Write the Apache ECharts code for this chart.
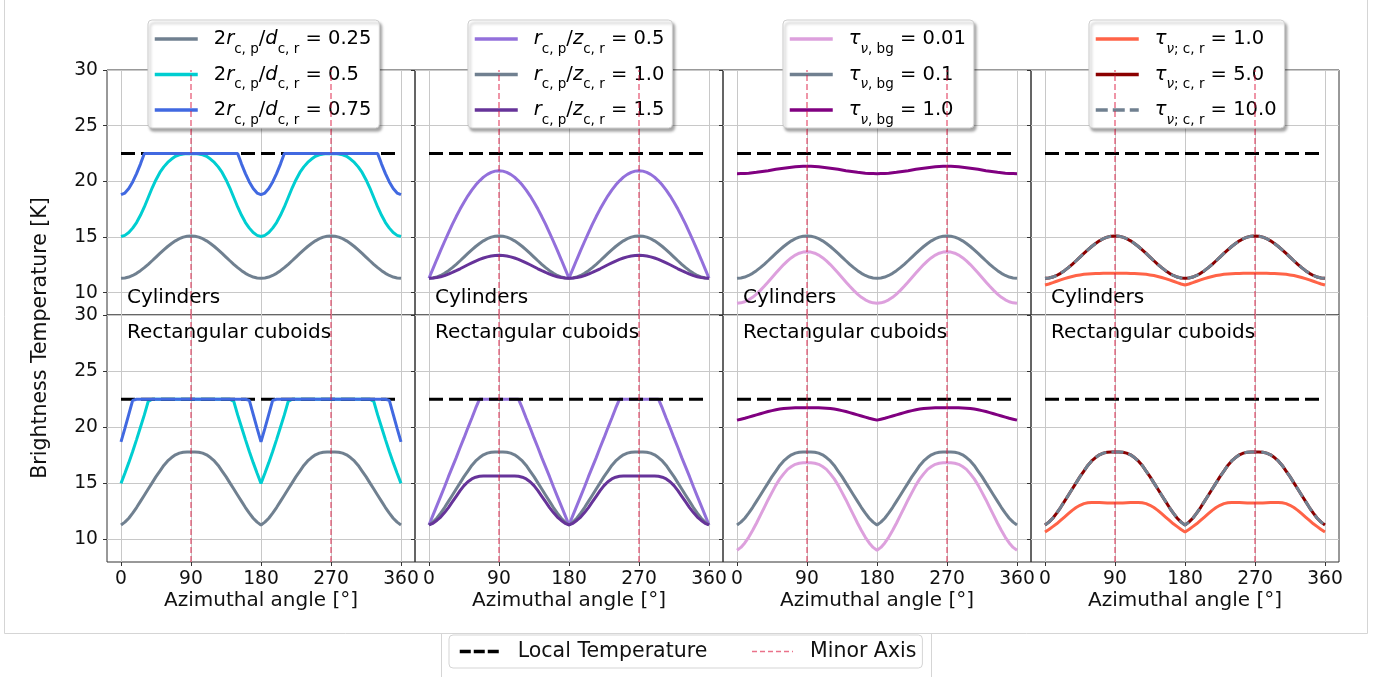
<!DOCTYPE html>
<html>
<head>
<meta charset="utf-8">
<title>Brightness temperature vs azimuthal angle</title>
<script src="https://cdn.jsdelivr.net/npm/echarts@6/dist/echarts.min.js"></script>
<style>
  html, body { margin: 0; padding: 0; background: #fff; }
  #chart { width: 1377px; height: 677px; }
</style>
</head>
<body>
<div id="chart"></div>
<script>
// azimuthal angle samples [deg]
const angles = [0,5,10,15,20,25,30,35,40,45,50,55,60,65,70,75,80,85,90,
  95,100,105,110,115,120,125,130,135,140,145,150,155,160,165,170,175,180,
  185,190,195,200,205,210,215,220,225,230,235,240,245,250,255,260,265,270,
  275,280,285,290,295,300,305,310,315,320,325,330,335,340,345,350,355,360]

const xTicks = [0, 90, 180, 270, 360]
const yTicks = [10, 15, 20, 25, 30]
const minorAxisAngles = [90, 270]
const localTempAngles = [0, 360]
const localTemp = 22.5

// legend values per column
const ratioValues = ['0.25', '0.5', '0.75']
const rzValues = ['0.5', '1.0', '1.5']
const tauBgValues = ['0.01', '0.1', '1.0']
const tauCrValues = ['1.0', '5.0', '10.0']

// ---- Cylinders (top row) ----
// reference model (slate gray in every panel)
const cylBase = [11.3,11.33,11.41,11.55,11.74,11.98,12.25,12.55,12.87,13.2,13.53,13.85,14.15,14.42,14.66,14.85,14.99,15.07,15.1,
  15.07,14.99,14.85,14.66,14.42,14.15,13.85,13.53,13.2,12.87,12.55,12.25,11.98,11.74,11.55,11.41,11.33,11.3,
  11.33,11.41,11.55,11.74,11.98,12.25,12.55,12.87,13.2,13.53,13.85,14.15,14.42,14.66,14.85,14.99,15.07,15.1,
  15.07,14.99,14.85,14.66,14.42,14.15,13.85,13.53,13.2,12.87,12.55,12.25,11.98,11.74,11.55,11.41,11.33,11.3]
const cylRatio050 = [15.05,15.15,15.4,15.8,16.3,16.95,17.7,18.55,19.4,20.15,20.8,21.3,21.7,22.0,22.25,22.38,22.45,22.49,22.5,
  22.49,22.45,22.38,22.25,22.0,21.7,21.3,20.8,20.15,19.4,18.55,17.7,16.95,16.3,15.8,15.4,15.15,15.05,
  15.15,15.4,15.8,16.3,16.95,17.7,18.55,19.4,20.15,20.8,21.3,21.7,22.0,22.25,22.38,22.45,22.49,22.5,
  22.49,22.45,22.38,22.25,22.0,21.7,21.3,20.8,20.15,19.4,18.55,17.7,16.95,16.3,15.8,15.4,15.15,15.05]
const cylRatio075 = [18.8,18.95,19.35,19.95,20.7,21.55,22.5,22.5,22.5,22.5,22.5,22.5,22.5,22.5,22.5,22.5,22.5,22.5,22.5,
  22.5,22.5,22.5,22.5,22.5,22.5,22.5,22.5,22.5,22.5,22.5,22.5,21.55,20.7,19.95,19.35,18.95,18.8,
  18.95,19.35,19.95,20.7,21.55,22.5,22.5,22.5,22.5,22.5,22.5,22.5,22.5,22.5,22.5,22.5,22.5,22.5,
  22.5,22.5,22.5,22.5,22.5,22.5,22.5,22.5,22.5,22.5,22.5,22.5,21.55,20.7,19.95,19.35,18.95,18.8]
const cylRz050 = [11.3,12.14,12.98,13.8,14.6,15.38,16.13,16.84,17.51,18.13,18.7,19.21,19.67,20.05,20.38,20.63,20.81,20.92,20.96,
  20.92,20.81,20.63,20.38,20.05,19.67,19.21,18.7,18.13,17.51,16.84,16.13,15.38,14.6,13.8,12.98,12.14,11.3,
  12.14,12.98,13.8,14.6,15.38,16.13,16.84,17.51,18.13,18.7,19.21,19.67,20.05,20.38,20.63,20.81,20.92,20.96,
  20.92,20.81,20.63,20.38,20.05,19.67,19.21,18.7,18.13,17.51,16.84,16.13,15.38,14.6,13.8,12.98,12.14,11.3]
const cylRz150 = [11.3,11.32,11.36,11.44,11.54,11.67,11.82,11.98,12.15,12.33,12.51,12.68,12.84,12.99,13.12,13.22,13.3,13.34,13.36,
  13.34,13.3,13.22,13.12,12.99,12.84,12.68,12.51,12.33,12.15,11.98,11.82,11.67,11.54,11.44,11.36,11.32,11.3,
  11.32,11.36,11.44,11.54,11.67,11.82,11.98,12.15,12.33,12.51,12.68,12.84,12.99,13.12,13.22,13.3,13.34,13.36,
  13.34,13.3,13.22,13.12,12.99,12.84,12.68,12.51,12.33,12.15,11.98,11.82,11.67,11.54,11.44,11.36,11.32,11.3]
const cylTau001 = [9.05,9.09,9.19,9.36,9.59,9.88,10.21,10.58,10.97,11.37,11.77,12.16,12.53,12.86,13.15,13.38,13.55,13.65,13.68,
  13.65,13.55,13.38,13.15,12.86,12.53,12.16,11.77,11.37,10.97,10.58,10.21,9.88,9.59,9.36,9.19,9.09,9.05,
  9.09,9.19,9.36,9.59,9.88,10.21,10.58,10.97,11.37,11.77,12.16,12.53,12.86,13.15,13.38,13.55,13.65,13.68,
  13.65,13.55,13.38,13.15,12.86,12.53,12.16,11.77,11.37,10.97,10.58,10.21,9.88,9.59,9.36,9.19,9.09,9.05]
const cylTau10 = [20.69,20.7,20.71,20.73,20.77,20.81,20.86,20.91,20.96,21.02,21.08,21.13,21.18,21.23,21.27,21.31,21.33,21.35,21.35,
  21.35,21.33,21.31,21.27,21.23,21.18,21.13,21.08,21.02,20.96,20.91,20.86,20.81,20.77,20.73,20.71,20.7,20.69,
  20.7,20.71,20.73,20.77,20.81,20.86,20.91,20.96,21.02,21.08,21.13,21.18,21.23,21.27,21.31,21.33,21.35,21.35,
  21.35,21.33,21.31,21.27,21.23,21.18,21.13,21.08,21.02,20.96,20.91,20.86,20.81,20.77,20.73,20.71,20.7,20.69]
const cylTauCr1 = [10.69,10.78,10.9,11.03,11.15,11.27,11.37,11.46,11.54,11.6,11.65,11.68,11.71,11.72,11.73,11.74,11.74,11.74,11.74,
  11.74,11.74,11.74,11.73,11.72,11.71,11.68,11.65,11.6,11.54,11.46,11.37,11.27,11.15,11.03,10.9,10.78,10.69,
  10.78,10.9,11.03,11.15,11.27,11.37,11.46,11.54,11.6,11.65,11.68,11.71,11.72,11.73,11.74,11.74,11.74,11.74,
  11.74,11.74,11.74,11.73,11.72,11.71,11.68,11.65,11.6,11.54,11.46,11.37,11.27,11.15,11.03,10.9,10.78,10.69]

// ---- Rectangular cuboids (bottom row) ----
const cubBase = [11.3,11.55,11.9,12.35,12.85,13.4,13.95,14.5,15.05,15.6,16.1,16.6,17.0,17.3,17.55,17.7,17.78,17.8,17.8,
  17.8,17.78,17.7,17.55,17.3,17.0,16.6,16.1,15.6,15.05,14.5,13.95,13.4,12.85,12.35,11.9,11.55,11.3,
  11.55,11.9,12.35,12.85,13.4,13.95,14.5,15.05,15.6,16.1,16.6,17.0,17.3,17.55,17.7,17.78,17.8,17.8,
  17.8,17.78,17.7,17.55,17.3,17.0,16.6,16.1,15.6,15.05,14.5,13.95,13.4,12.85,12.35,11.9,11.55,11.3]
const cubRatio050 = [15.0,15.9,16.85,17.85,18.9,20.0,21.1,22.3,22.5,22.5,22.5,22.5,22.5,22.5,22.5,22.5,22.5,22.5,22.5,
  22.5,22.5,22.5,22.5,22.5,22.5,22.5,22.5,22.5,22.5,22.3,21.1,20.0,18.9,17.85,16.85,15.9,15.0,
  15.9,16.85,17.85,18.9,20.0,21.1,22.3,22.5,22.5,22.5,22.5,22.5,22.5,22.5,22.5,22.5,22.5,22.5,
  22.5,22.5,22.5,22.5,22.5,22.5,22.5,22.5,22.5,22.5,22.3,21.1,20.0,18.9,17.85,16.85,15.9,15.0]
const cubRatio075 = [18.7,19.9,21.15,22.4,22.5,22.5,22.5,22.5,22.5,22.5,22.5,22.5,22.5,22.5,22.5,22.5,22.5,22.5,22.5,
  22.5,22.5,22.5,22.5,22.5,22.5,22.5,22.5,22.5,22.5,22.5,22.5,22.5,22.5,22.4,21.15,19.9,18.7,
  19.9,21.15,22.4,22.5,22.5,22.5,22.5,22.5,22.5,22.5,22.5,22.5,22.5,22.5,22.5,22.5,22.5,22.5,
  22.5,22.5,22.5,22.5,22.5,22.5,22.5,22.5,22.5,22.5,22.5,22.5,22.5,22.5,22.4,21.15,19.9,18.7]
const cubRz050 = [11.3,12.15,13.0,13.85,14.7,15.6,16.45,17.3,18.2,19.05,19.95,20.8,21.7,22.5,22.5,22.5,22.5,22.5,22.5,
  22.5,22.5,22.5,22.5,22.5,21.7,20.8,19.95,19.05,18.2,17.3,16.45,15.6,14.7,13.85,13.0,12.15,11.3,
  12.15,13.0,13.85,14.7,15.6,16.45,17.3,18.2,19.05,19.95,20.8,21.7,22.5,22.5,22.5,22.5,22.5,22.5,
  22.5,22.5,22.5,22.5,22.5,21.7,20.8,19.95,19.05,18.2,17.3,16.45,15.6,14.7,13.85,13.0,12.15,11.3]
const cubRz150 = [11.3,11.45,11.7,12.0,12.4,12.85,13.35,13.85,14.35,14.8,15.15,15.4,15.55,15.63,15.65,15.66,15.67,15.67,15.67,
  15.67,15.67,15.66,15.65,15.63,15.55,15.4,15.15,14.8,14.35,13.85,13.35,12.85,12.4,12.0,11.7,11.45,11.3,
  11.45,11.7,12.0,12.4,12.85,13.35,13.85,14.35,14.8,15.15,15.4,15.55,15.63,15.65,15.66,15.67,15.67,15.67,
  15.67,15.67,15.66,15.65,15.63,15.55,15.4,15.15,14.8,14.35,13.85,13.35,12.85,12.4,12.0,11.7,11.45,11.3]
const cubTau001 = [9.05,9.3,9.7,10.2,10.8,11.45,12.15,12.85,13.55,14.2,14.85,15.4,15.85,16.25,16.5,16.7,16.8,16.84,16.85,
  16.84,16.8,16.7,16.5,16.25,15.85,15.4,14.85,14.2,13.55,12.85,12.15,11.45,10.8,10.2,9.7,9.3,9.05,
  9.3,9.7,10.2,10.8,11.45,12.15,12.85,13.55,14.2,14.85,15.4,15.85,16.25,16.5,16.7,16.8,16.84,16.85,
  16.84,16.8,16.7,16.5,16.25,15.85,15.4,14.85,14.2,13.55,12.85,12.15,11.45,10.8,10.2,9.7,9.3,9.05]
const cubTau10 = [20.64,20.72,20.8,20.9,21.0,21.1,21.2,21.3,21.4,21.48,21.56,21.62,21.67,21.7,21.72,21.73,21.74,21.74,21.74,
  21.74,21.74,21.73,21.72,21.7,21.67,21.62,21.56,21.48,21.4,21.3,21.2,21.1,21.0,20.9,20.8,20.72,20.64,
  20.72,20.8,20.9,21.0,21.1,21.2,21.3,21.4,21.48,21.56,21.62,21.67,21.7,21.72,21.73,21.74,21.74,21.74,
  21.74,21.74,21.73,21.72,21.7,21.67,21.62,21.56,21.48,21.4,21.3,21.2,21.1,21.0,20.9,20.8,20.72,20.64]
const cubTauCr1 = [10.68,10.9,11.15,11.4,11.7,12.0,12.3,12.6,12.85,13.05,13.2,13.27,13.3,13.31,13.3,13.28,13.26,13.25,13.25,
  13.25,13.26,13.28,13.3,13.31,13.3,13.27,13.2,13.05,12.85,12.6,12.3,12.0,11.7,11.4,11.15,10.9,10.68,
  10.9,11.15,11.4,11.7,12.0,12.3,12.6,12.85,13.05,13.2,13.27,13.3,13.31,13.3,13.28,13.26,13.25,13.25,
  13.25,13.26,13.28,13.3,13.31,13.3,13.27,13.2,13.05,12.85,12.6,12.3,12.0,11.7,11.4,11.15,10.9,10.68]

const FONT = 'DejaVu Sans'
const MINOR_COLOR = 'rgba(220,20,60,0.6)'

// legend labels (mathtext-like, rich text)
const legendText = {}
const colNames = [[], [], [], []]
ratioValues.forEach(v => {
  const n = 'ratio ' + v
  colNames[0].push(n)
  legendText[n] = '{g|}{n|2}{i|r}{s|c, p}{n|/}{i|d}{s|c, r}{n| = ' + v + '}'
})
rzValues.forEach(v => {
  const n = 'rz ' + v
  colNames[1].push(n)
  legendText[n] = '{g|}{i|r}{s|c, p}{n|/}{i|z}{s|c, r}{n| = ' + v + '}'
})
tauBgValues.forEach(v => {
  const n = 'tau bg ' + v
  colNames[2].push(n)
  legendText[n] = '{g|}{i|τ}{si|ν}{s|, bg}{n| = ' + v + '}'
})
tauCrValues.forEach(v => {
  const n = 'tau cr ' + v
  colNames[3].push(n)
  legendText[n] = '{g|}{i|τ}{si|ν}{s|; c, r}{n| = ' + v + '}'
})

const columns = [
  { colors: ['#708090', '#00CED1', '#4169E1'], dashed: [false, false, false],
    rows: [[cylBase, cylRatio050, cylRatio075], [cubBase, cubRatio050, cubRatio075]] },
  { colors: ['#9370DB', '#708090', '#663399'], dashed: [false, false, false],
    rows: [[cylRz050, cylBase, cylRz150], [cubRz050, cubBase, cubRz150]] },
  { colors: ['#DDA0DD', '#708090', '#800080'], dashed: [false, false, false],
    rows: [[cylTau001, cylBase, cylTau10], [cubTau001, cubBase, cubTau10]] },
  { colors: ['#FF6347', '#8B0000', '#708090'], dashed: [false, false, true],
    rows: [[cylTauCr1, cylBase, cylBase], [cubTauCr1, cubBase, cubBase]] }
]
const rowLabels = ['Cylinders', 'Rectangular cuboids']

const panelLeft = 107
const panelWidth = 308
const rowTop = [70, 315]
const rowHeight = [245, 247]

const grids = [], xAxes = [], yAxes = [], series = [], graphics = []

for (let row = 0; row < 2; row++) {
  for (let col = 0; col < 4; col++) {
    const g = row * 4 + col
    grids.push({
      left: panelLeft + panelWidth * col, top: rowTop[row], width: panelWidth, height: rowHeight[row],
      show: true, borderColor: '#333', borderWidth: 1, backgroundColor: 'transparent',
      containLabel: false, outerBoundsMode: 'none'
    })
    xAxes.push({
      gridIndex: g, type: 'value', min: -18, max: 378,
      axisLine: { show: false, onZero: false },
      axisTick: { show: row === 1, length: 4, customValues: xTicks, lineStyle: { color: '#333' } },
      axisLabel: { show: row === 1, customValues: xTicks, margin: 8, fontSize: 18.7, color: '#111', fontFamily: FONT },
      splitLine: { show: true, lineStyle: { color: '#c8c8c8', width: 1 } },
      name: row === 1 ? 'Azimuthal angle [°]' : '',
      nameLocation: 'middle', nameGap: 29,
      nameTextStyle: { fontSize: 20, color: '#111', fontFamily: FONT }
    })
    yAxes.push({
      gridIndex: g, type: 'value', min: 8, max: 30,
      axisLine: { show: false, onZero: false },
      axisTick: { show: true, length: 4, customValues: yTicks, lineStyle: { color: '#333' } },
      axisLabel: { show: col === 0, customValues: yTicks, margin: 9, fontSize: 18.7, color: '#111', fontFamily: FONT },
      splitLine: { show: true, lineStyle: { color: '#c8c8c8', width: 1 } }
    })

    const c = columns[col]
    const curve = (k) => ({
      type: 'line', name: colNames[col][k], xAxisIndex: g, yAxisIndex: g,
      data: angles.map((a, i) => [a, c.rows[row][k][i]]),
      symbol: 'none', smooth: false, silent: true, z: 2,
      itemStyle: { color: c.colors[k], opacity: 0 },
      lineStyle: { color: c.colors[k], width: 3, type: c.dashed[k] ? [12, 5] : 'solid' }
    })
    series.push(curve(0))
    series.push(curve(1))
    series.push({
      type: 'line', name: 'Local Temperature', xAxisIndex: g, yAxisIndex: g,
      data: localTempAngles.map(a => [a, localTemp]),
      symbol: 'none', silent: true, z: 2,
      itemStyle: { color: '#000', opacity: 0 },
      lineStyle: { color: '#000', width: 3, type: [14, 6] }
    })
    series.push(curve(2))
    series.push({
      type: 'line', name: 'Minor Axis', xAxisIndex: g, yAxisIndex: g, data: [],
      symbol: 'none', silent: true, z: 3,
      itemStyle: { color: MINOR_COLOR, opacity: 0 },
      lineStyle: { color: MINOR_COLOR, width: 1.5, type: [6, 3] },
      markLine: {
        silent: true, symbol: ['none', 'none'], label: { show: false }, animation: false,
        lineStyle: { color: MINOR_COLOR, width: 1.5, type: [6, 3], opacity: 1 },
        data: minorAxisAngles.map(a => ({ xAxis: a }))
      }
    })

    graphics.push({
      type: 'text', z: 10,
      left: panelLeft + panelWidth * col + 20,
      top: row === 0 ? 288 : 323,
      style: { text: rowLabels[row], font: '20px "DejaVu Sans"', fill: '#000' }
    })
  }
}

const richStyles = {
  g: { width: 11 },
  n: { fontSize: 19.5, fontFamily: FONT, color: '#000' },
  i: { fontSize: 19.5, fontFamily: FONT, fontStyle: 'italic', color: '#000' },
  s: { fontSize: 13.5, fontFamily: FONT, color: '#000', padding: [20, 0, 0, 0] },
  si: { fontSize: 13.5, fontFamily: FONT, fontStyle: 'italic', color: '#000', padding: [20, 0, 0, 0] }
}
const legendLefts = [148, 468, 783, 1089]
const legends = legendLefts.map((left, col) => ({
  left: left, top: 20, orient: 'vertical', data: colNames[col],
  itemWidth: 43, itemHeight: 14, itemGap: 5.5,
  padding: [6, 8, 1, 5],
  backgroundColor: '#fff', borderColor: '#cfcfcf', borderWidth: 1, borderRadius: 4,
  shadowColor: 'rgba(0,0,0,0.35)', shadowBlur: 3, shadowOffsetX: 2, shadowOffsetY: 3,
  selectedMode: false,
  itemStyle: { opacity: 0 },
  lineStyle: { width: 3.5 },
  formatter: name => legendText[name],
  textStyle: { fontFamily: FONT, fontSize: 19.5, color: '#000', lineHeight: 26, rich: richStyles }
}))
legends.push({
  left: 449, top: 635, orient: 'horizontal',
  data: [
    { name: 'Local Temperature', lineStyle: { width: 3.5, type: [11, 3] } },
    { name: 'Minor Axis', lineStyle: { width: 1.5, type: [5, 3] } }
  ],
  itemWidth: 41, itemHeight: 14, itemGap: 44,
  padding: [6, 6, 6, 9],
  backgroundColor: '#fff', borderColor: '#d5d5d5', borderWidth: 1, borderRadius: 4,
  selectedMode: false,
  itemStyle: { opacity: 0 },
  formatter: name => '{g|}' + name,
  textStyle: { fontFamily: FONT, fontSize: 20.5, color: '#111', rich: { g: { width: 12 } } }
})

// outer frames
graphics.push({
  type: 'rect', z: 0, silent: true,
  shape: { x: 4.5, y: -10, width: 1363, height: 643.5 },
  style: { fill: 'none', stroke: '#d5d5d5', lineWidth: 1 }
})
graphics.push({
  type: 'rect', z: 0, silent: true,
  shape: { x: 441.5, y: 633.5, width: 490, height: 60 },
  style: { fill: 'none', stroke: '#d5d5d5', lineWidth: 1 }
})
// shared y label
graphics.push({
  type: 'text', z: 10, x: 41, y: 338, rotation: Math.PI / 2,
  style: { text: 'Brightness Temperature [K]', font: '20.5px "DejaVu Sans"', fill: '#111', align: 'center', verticalAlign: 'middle' }
})

const chart = echarts.init(document.getElementById('chart'), null, { renderer: 'canvas' })
chart.setOption({
  animation: false,
  backgroundColor: '#fff',
  textStyle: { fontFamily: FONT },
  grid: grids,
  xAxis: xAxes,
  yAxis: yAxes,
  legend: legends,
  graphic: graphics,
  series: series
})
</script>
</body>
</html>
